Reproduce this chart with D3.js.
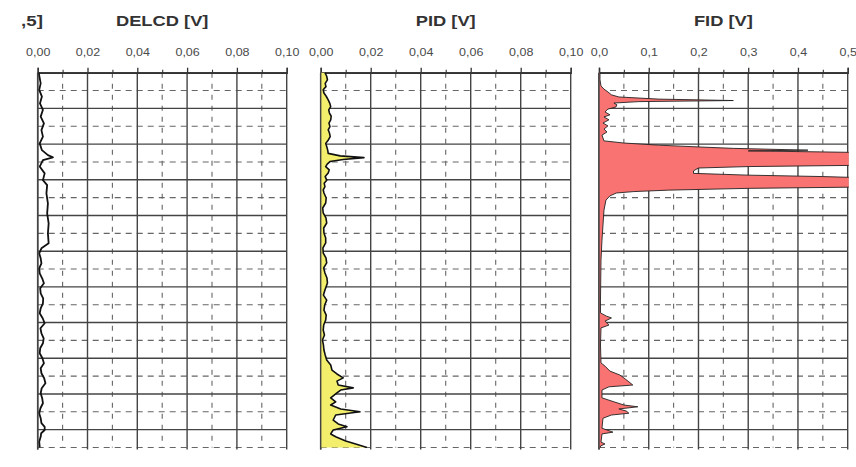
<!DOCTYPE html>
<html>
<head>
<meta charset="utf-8">
<script src="https://cdn.jsdelivr.net/npm/d3@7"></script>
<style>
  html, body { margin: 0; padding: 0; background: #fff; }
  svg { display: block; }
</style>
</head>
<body>
<svg id="chart" width="856" height="467"></svg>
<script>
// Depth (m) of each sample and the detector signal (V) for the three logs
const delcdDepth = [0, 0.30, 0.48, 0.67, 0.86, 1.04, 1.23, 1.42, 1.61, 1.79, 1.98, 2.17, 2.31, 2.37, 2.45, 2.63, 2.82, 3.01, 3.15, 3.38, 3.66, 3.94, 4.22, 4.50, 4.78, 4.92, 5.06, 5.20, 5.34, 5.48, 5.62, 5.76, 5.90, 6.04, 6.18, 6.32, 6.46, 6.60, 6.74, 6.88, 7.02, 7.16, 7.30, 7.44, 7.58, 7.72, 7.86, 8.00, 8.14, 8.28, 8.42, 8.56, 8.70, 8.84, 8.98, 9.12, 9.26, 9.40, 9.54, 9.68, 9.82, 9.92, 10.01, 10.10, 10.20, 10.34, 10.48, 10.5];
const delcdValues = [0.0004, 0.0012, 0.0006, 0.0017, 0.0009, 0.0021, 0.0012, 0.0025, 0.0015, 0.0021, 0.0008, 0.0017, 0.0041, 0.0061, 0.0021, 0.0008, 0.0028, 0.0021, 0.0038, 0.0035, 0.0041, 0.0038, 0.0044, 0.0041, 0.0044, 0.0015, 0.0006, 0.0012, 0.0015, 0.0006, 0.0008, 0.0018, 0.0025, 0.0010, 0.0012, 0.0022, 0.0021, 0.0012, 0.0008, 0.0020, 0.0028, 0.0011, 0.0015, 0.0024, 0.0021, 0.0010, 0.0008, 0.0019, 0.0025, 0.0012, 0.0015, 0.0026, 0.0031, 0.0016, 0.0012, 0.0018, 0.0021, 0.0011, 0.0006, 0.0012, 0.0015, 0.0028, 0.0028, 0.0014, 0.0012, 0.0006, 0.0008, 0.0008];

const pidDepth = [0, 0.10, 0.20, 0.30, 0.39, 0.48, 0.57, 0.66, 0.76, 0.85, 0.95, 1.04, 1.13, 1.22, 1.32, 1.41, 1.51, 1.60, 1.69, 1.79, 1.89, 1.98, 2.07, 2.17, 2.26, 2.33, 2.38, 2.43, 2.49, 2.56, 2.63, 2.72, 2.81, 2.91, 3.01, 3.10, 3.19, 3.28, 3.37, 3.51, 3.65, 3.79, 3.93, 4.07, 4.21, 4.35, 4.49, 4.63, 4.77, 4.91, 5.05, 5.19, 5.33, 5.47, 5.61, 5.75, 5.89, 6.09, 6.23, 6.37, 6.51, 6.65, 6.79, 6.93, 7.07, 7.21, 7.35, 7.49, 7.63, 7.77, 7.91, 8.05, 8.19, 8.33, 8.44, 8.55, 8.64, 8.75, 8.83, 8.89, 8.97, 9.11, 9.22, 9.31, 9.42, 9.50, 9.59, 9.73, 9.84, 9.92, 10.01, 10.12, 10.20, 10.32, 10.40, 10.5];
const pidValues = [0.0017, 0.0024, 0.0027, 0.0018, 0.0021, 0.0010, 0.0013, 0.0022, 0.0030, 0.0036, 0.0040, 0.0032, 0.0035, 0.0042, 0.0040, 0.0033, 0.0037, 0.0030, 0.0035, 0.0038, 0.0030, 0.0020, 0.0024, 0.0028, 0.0030, 0.0078, 0.0173, 0.0090, 0.0037, 0.0026, 0.0020, 0.0034, 0.0030, 0.0018, 0.0024, 0.0014, 0.0017, 0.0010, 0.0013, 0.0022, 0.0020, 0.0008, 0.0010, 0.0021, 0.0024, 0.0012, 0.0013, 0.0020, 0.0020, 0.0009, 0.0010, 0.0021, 0.0024, 0.0012, 0.0017, 0.0025, 0.0027, 0.0017, 0.0011, 0.0024, 0.0016, 0.0013, 0.0022, 0.0020, 0.0012, 0.0010, 0.0015, 0.0007, 0.0011, 0.0013, 0.0018, 0.0024, 0.0040, 0.0045, 0.0065, 0.0090, 0.0065, 0.0070, 0.0130, 0.0080, 0.0065, 0.0040, 0.0060, 0.0040, 0.0080, 0.0157, 0.0060, 0.0050, 0.0070, 0.0105, 0.0050, 0.0040, 0.0060, 0.0100, 0.0140, 0.0185];

const fidDepth = [0, 0.20, 0.37, 0.46, 0.54, 0.62, 0.68, 0.74, 0.78, 0.81, 0.85, 0.90, 0.96, 1.02, 1.10, 1.18, 1.24, 1.32, 1.41, 1.49, 1.58, 1.66, 1.75, 1.83, 1.91, 1.97, 2.03, 2.08, 2.12, 2.17, 2.19, 2.24, 2.59, 2.63, 2.67, 2.75, 2.82, 2.87, 2.91, 2.95, 3.20, 3.24, 3.29, 3.33, 3.37, 3.45, 3.57, 3.85, 4.27, 4.69, 5.25, 6.37, 6.73, 6.82, 6.87, 6.96, 7.07, 7.15, 7.63, 8.13, 8.22, 8.36, 8.47, 8.55, 8.66, 8.75, 8.80, 8.89, 9.11, 9.22, 9.31, 9.36, 9.42, 9.48, 9.54, 9.59, 9.68, 9.96, 10.07, 10.12, 10.35, 10.40, 10.46, 10.5];
const fidValues = [0.002, 0.002, 0.004, 0.010, 0.018, 0.025, 0.040, 0.120, 0.270, 0.080, 0.030, 0.036, 0.034, 0.018, 0.012, 0.022, 0.010, 0.020, 0.008, 0.018, 0.010, 0.016, 0.006, 0.008, 0.010, 0.050, 0.120, 0.200, 0.270, 0.420, 0.300, 0.550, 0.550, 0.300, 0.200, 0.190, 0.190, 0.300, 0.450, 0.550, 0.550, 0.300, 0.140, 0.070, 0.035, 0.022, 0.014, 0.010, 0.008, 0.006, 0.004, 0.003, 0.003, 0.015, 0.025, 0.012, 0.020, 0.004, 0.003, 0.004, 0.012, 0.022, 0.042, 0.050, 0.060, 0.068, 0.020, 0.006, 0.006, 0.030, 0.050, 0.078, 0.040, 0.055, 0.060, 0.025, 0.008, 0.006, 0.028, 0.006, 0.004, 0.012, 0.003, 0.003];

// Axis ticks and titles
const lowTicks = [0, 0.02, 0.04, 0.06, 0.08, 0.10];
const fidTicks = [0, 0.1, 0.2, 0.3, 0.4, 0.5];
const titles = ["DELCD [V]", "PID [V]", "FID [V]"];
const depthMax = 10.5;

const svg = d3.select("#chart");
const plotTop = 72.7, plotBottom = 447.5;
const y = d3.scaleLinear().domain([0, depthMax]).range([plotTop, plotBottom]);

const panels = [
  { title: titles[0], depth: delcdDepth, values: delcdValues, ticks: lowTicks, fmt: ".2f", x0: 37.7, x1: 286.7, fill: "none", stroke: "#111", sw: 1.8 },
  { title: titles[1], depth: pidDepth, values: pidValues, ticks: lowTicks, fmt: ".2f", x0: 320.7, x1: 570.7, fill: "#f3ef6c", stroke: "#111", sw: 1.6 },
  { title: titles[2], depth: fidDepth, values: fidValues, ticks: fidTicks, fmt: ".1f", x0: 599, x1: 847.7, fill: "#f87371", stroke: "#222", sw: 0.9 }
];

// Depth axis title fragment at the far left
svg.append("text")
  .attr("transform", "translate(43,25.5) scale(1.25,1)")
  .attr("text-anchor", "end")
  .attr("font-family", "Liberation Sans, Arial, sans-serif")
  .attr("font-weight", "bold")
  .attr("font-size", 15)
  .attr("fill", "#333")
  .text(",5]");

const majorDepths = d3.range(0, 11, 1);
const minorDepths = d3.range(0.5, 11, 1);

panels.forEach((p, i) => {
  const xMax = p.ticks[p.ticks.length - 1];
  const x = d3.scaleLinear().domain([0, xMax]).range([p.x0, p.x1]);
  const minorX = d3.range(0, 5).map(k => (p.ticks[k] + p.ticks[k + 1]) / 2);
  const g = svg.append("g");

  const clipId = "clip" + i;
  svg.append("clipPath").attr("id", clipId)
    .append("rect").attr("x", p.x0).attr("y", plotTop - 1)
    .attr("width", p.x1 - p.x0 + 1).attr("height", plotBottom - plotTop + 2);

  // minor grid (dashed)
  g.selectAll(".hminor").data(minorDepths).join("line")
    .attr("x1", p.x0).attr("x2", p.x1)
    .attr("y1", d => y(d)).attr("y2", d => y(d))
    .attr("stroke", "#666").attr("stroke-width", 1.1)
    .attr("stroke-dasharray", "6,5");
  g.selectAll(".vminor").data(minorX).join("line")
    .attr("x1", d => x(d)).attr("x2", d => x(d))
    .attr("y1", plotTop).attr("y2", plotBottom)
    .attr("stroke", "#666").attr("stroke-width", 1.1)
    .attr("stroke-dasharray", "5,6");

  // major grid (solid)
  g.selectAll(".hmajor").data(majorDepths).join("line")
    .attr("x1", p.x0).attr("x2", p.x1)
    .attr("y1", d => y(d)).attr("y2", d => y(d))
    .attr("stroke", "#444").attr("stroke-width", 1.4);
  g.selectAll(".vmajor").data(p.ticks).join("line")
    .attr("x1", d => x(d)).attr("x2", d => x(d))
    .attr("y1", plotTop).attr("y2", plotBottom + 2)
    .attr("stroke", "#444").attr("stroke-width", d => d === 0 ? 1.6 : 1.4);

  // top axis with labels
  const fmt = d3.format(p.fmt);
  const axis = d3.axisTop(x).tickValues(p.ticks).tickSize(5).tickPadding(12)
    .tickFormat(d => fmt(d).replace(".", ","));
  const ax = svg.append("g").attr("transform", `translate(0,${plotTop})`).call(axis);
  ax.select(".domain").attr("stroke", "#333").attr("stroke-width", 1.4);
  ax.selectAll(".tick line").attr("stroke", "#333").attr("stroke-width", 1.3);
  ax.selectAll(".tick text")
    .attr("font-family", "Liberation Sans, Arial, sans-serif")
    .attr("font-size", 10)
    .attr("fill", "#4a4a4a")
    .attr("transform", "scale(1.25,1)");
  const axMinor = d3.axisTop(x).tickValues(minorX).tickSize(3).tickFormat("");
  const axm = svg.append("g").attr("transform", `translate(0,${plotTop})`).call(axMinor);
  axm.select(".domain").remove();
  axm.selectAll(".tick line").attr("stroke", "#333").attr("stroke-width", 1.1);

  // panel title
  svg.append("text")
    .attr("transform", `translate(${(p.x0 + p.x1) / 2},25.5) scale(1.22,1)`)
    .attr("text-anchor", "middle")
    .attr("font-family", "Liberation Sans, Arial, sans-serif")
    .attr("font-weight", "bold")
    .attr("font-size", 15)
    .attr("fill", "#333")
    .text(p.title);

  // signal trace
  const pts = p.depth.map((d, k) => ({ d, v: p.values[k] }));
  const plot = svg.append("g").attr("clip-path", `url(#${clipId})`);
  if (p.fill !== "none") {
    const area = d3.area().y(q => y(q.d)).x0(x(0)).x1(q => x(q.v));
    plot.append("path").datum(pts).attr("d", area).attr("fill", p.fill);
  }
  const line = d3.line().y(q => y(q.d)).x(q => x(q.v));
  plot.append("path").datum(pts).attr("d", line)
    .attr("fill", "none").attr("stroke", p.stroke)
    .attr("stroke-width", p.sw).attr("stroke-linejoin", "round");

  // left axis line redrawn over the fill
  svg.append("line").attr("x1", p.x0).attr("x2", p.x0)
    .attr("y1", plotTop).attr("y2", plotBottom + 2)
    .attr("stroke", "#444").attr("stroke-width", 1.4);
});
</script>
</body>
</html>
